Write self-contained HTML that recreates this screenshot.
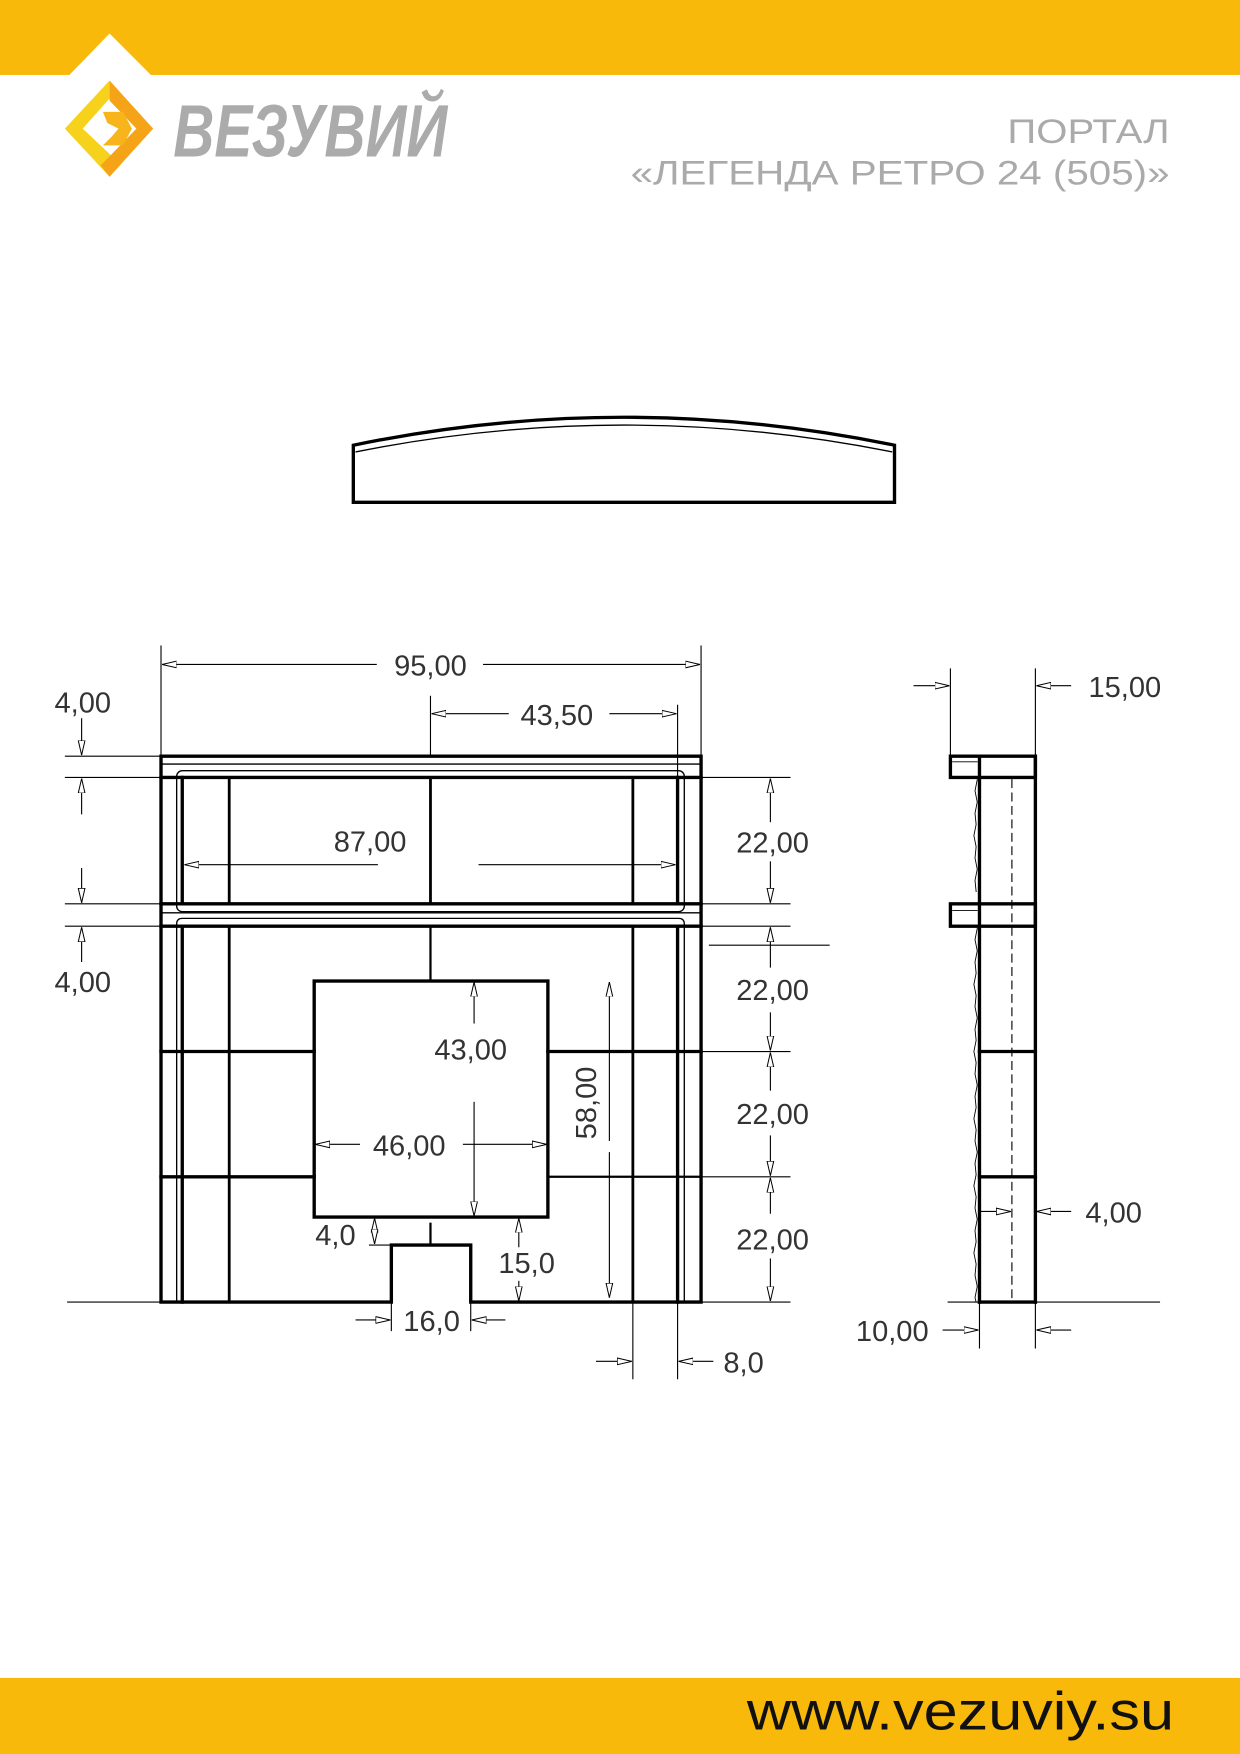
<!DOCTYPE html>
<html><head><meta charset="utf-8"><style>
html,body{margin:0;padding:0;background:#fff;}
svg{display:block;}
text{font-family:"Liberation Sans",sans-serif;}
</style></head><body>
<svg width="1240" height="1754" viewBox="0 0 1109 1568" preserveAspectRatio="none" xmlns="http://www.w3.org/2000/svg">
<defs>
<marker id="a" markerWidth="14" markerHeight="8" refX="13" refY="4" orient="auto" markerUnits="userSpaceOnUse">
<path d="M0,1 L13,4 L0,7 Z" fill="#fff" stroke="#000" stroke-width="0.9"/>
</marker>
</defs>
<!-- header -->
<rect x="0" y="0" width="1109" height="67" fill="#F9B90B"/>
<polygon points="62,67 98,30 135,67" fill="#fff"/>
<polygon points="98,72 58,115 98,158 108,147 74,115 98,88" fill="#F7D21C"/>
<polygon points="98,72 137,115 98,158 90,148 122,115 98,90" fill="#F6A417"/>
<polygon points="92,100 110,100 118,115 110,130 92,130 100,122 106,115 96,110" fill="#F7B51B"/>
<text x="155" y="140" font-size="66" font-weight="bold" font-style="italic" fill="#ababab" textLength="245" lengthAdjust="spacingAndGlyphs">ВЕЗУВИЙ</text>
<text x="1046" y="128" font-size="31" fill="#aaa" text-anchor="end" textLength="145" lengthAdjust="spacingAndGlyphs">ПОРТАЛ</text>
<text x="1046" y="165" font-size="31" fill="#aaa" text-anchor="end" textLength="482" lengthAdjust="spacingAndGlyphs">«ЛЕГЕНДА РЕТРО 24 (505)»</text>

<!-- slab -->
<g fill="none" stroke="#000">
<path d="M316,398 Q558,348 800,398 L800,449 L316,449 Z" stroke-width="3"/>
<path d="M318,404 Q558,356 798,404" stroke-width="1.2"/>
</g>

<!-- main front view -->
<g fill="none" stroke="#000" stroke-linecap="square">
<path d="M144,676 H627 V1164 H421 V1113 H350 V1164 H144 Z" stroke-width="3"/>
<line x1="144" y1="683" x2="627" y2="683" stroke-width="1.2"/>
<line x1="144" y1="695" x2="627" y2="695" stroke-width="3"/>
<line x1="144" y1="808" x2="627" y2="808" stroke-width="3"/>
<line x1="144" y1="828" x2="627" y2="828" stroke-width="3"/>
<line x1="144" y1="816" x2="627" y2="816" stroke-width="1.2"/>
<rect x="158" y="689" width="454" height="126" rx="5" stroke-width="1.2"/>
<path d="M158,1164 V826 Q158,821 163,821 H607 Q612,821 612,826 V1164" stroke-width="1.2"/>
<line x1="163" y1="695" x2="163" y2="808" stroke-width="3"/>
<line x1="163" y1="828" x2="163" y2="1164" stroke-width="3"/>
<line x1="205" y1="695" x2="205" y2="808" stroke-width="2.5"/>
<line x1="205" y1="828" x2="205" y2="1164" stroke-width="2.5"/>
<line x1="385" y1="695" x2="385" y2="808" stroke-width="2.5"/>
<line x1="385" y1="828" x2="385" y2="877" stroke-width="2"/>
<line x1="385" y1="1094" x2="385" y2="1112" stroke-width="2"/>
<line x1="566" y1="695" x2="566" y2="808" stroke-width="2.5"/>
<line x1="566" y1="828" x2="566" y2="1164" stroke-width="2.5"/>
<line x1="606" y1="695" x2="606" y2="808" stroke-width="3"/>
<line x1="606" y1="828" x2="606" y2="1164" stroke-width="3"/>
<rect x="281" y="877" width="209" height="211" stroke-width="3"/>
<line x1="144" y1="940" x2="281" y2="940" stroke-width="3"/>
<line x1="490" y1="940" x2="627" y2="940" stroke-width="3"/>
<line x1="144" y1="1052" x2="281" y2="1052" stroke-width="3"/>
<line x1="490" y1="1052" x2="627" y2="1052" stroke-width="2"/>
</g>

<g stroke="#000" stroke-width="1" fill="none">
<line x1="58" y1="676" x2="144" y2="676"/>
<line x1="58" y1="695" x2="144" y2="695"/>
<line x1="58" y1="808" x2="144" y2="808"/>
<line x1="58" y1="828" x2="144" y2="828"/>
<line x1="627" y1="695" x2="707" y2="695"/>
<line x1="627" y1="808" x2="707" y2="808"/>
<line x1="627" y1="828" x2="707" y2="828"/>
<line x1="634" y1="845" x2="742" y2="845"/>
<line x1="627" y1="940" x2="707" y2="940"/>
<line x1="627" y1="1052" x2="707" y2="1052"/>
<line x1="60" y1="1164" x2="144" y2="1164"/>
<line x1="627" y1="1164" x2="707" y2="1164"/>
<line x1="144" y1="577" x2="144" y2="676"/>
<line x1="627" y1="577" x2="627" y2="676"/>
<line x1="385" y1="622" x2="385" y2="676"/>
<line x1="606" y1="630" x2="606" y2="695"/>
<line x1="330" y1="1113" x2="350" y2="1113"/>
<line x1="350" y1="1164" x2="350" y2="1190"/>
<line x1="421" y1="1164" x2="421" y2="1190"/>
<line x1="566" y1="1164" x2="566" y2="1233"/>
<line x1="606" y1="1164" x2="606" y2="1233"/>
</g>

<g stroke="#000" stroke-width="1" fill="none" marker-end="url(#a)">
<line x1="337" y1="594" x2="145" y2="594"/>
<line x1="432" y1="594" x2="626" y2="594"/>
<line x1="455" y1="638" x2="386" y2="638"/>
<line x1="545" y1="638" x2="605" y2="638"/>
<line x1="338" y1="773" x2="165" y2="773"/>
<line x1="428" y1="773" x2="604" y2="773"/>
<line x1="73" y1="642" x2="73" y2="675"/>
<line x1="73" y1="728" x2="73" y2="696"/>
<line x1="73" y1="776" x2="73" y2="807"/>
<line x1="73" y1="860" x2="73" y2="829"/>
<line x1="689" y1="735" x2="689" y2="696"/>
<line x1="689" y1="770" x2="689" y2="807"/>
<line x1="689" y1="865" x2="689" y2="829"/>
<line x1="689" y1="905" x2="689" y2="939"/>
<line x1="689" y1="975" x2="689" y2="941"/>
<line x1="689" y1="1015" x2="689" y2="1051"/>
<line x1="689" y1="1085" x2="689" y2="1053"/>
<line x1="689" y1="1125" x2="689" y2="1163"/>
<line x1="424" y1="915" x2="424" y2="878"/>
<line x1="424" y1="985" x2="424" y2="1087"/>
<line x1="545" y1="1020" x2="545" y2="878"/>
<line x1="545" y1="1030" x2="545" y2="1160"/>
<line x1="322" y1="1023" x2="282" y2="1023"/>
<line x1="414" y1="1023" x2="489" y2="1023"/>
<line x1="335" y1="1100" x2="335" y2="1089"/>
<line x1="335" y1="1101" x2="335" y2="1112"/>
<line x1="464" y1="1115" x2="464" y2="1089"/>
<line x1="464" y1="1145" x2="464" y2="1163"/>
<line x1="318" y1="1180" x2="349" y2="1180"/>
<line x1="452" y1="1180" x2="422" y2="1180"/>
<line x1="533" y1="1217" x2="565" y2="1217"/>
<line x1="638" y1="1217" x2="607" y2="1217"/>
<line x1="817" y1="613" x2="849" y2="613"/>
<line x1="958" y1="613" x2="927" y2="613"/>
<line x1="876" y1="1083" x2="904" y2="1083"/>
<line x1="958" y1="1083" x2="927" y2="1083"/>
<line x1="843" y1="1189" x2="875" y2="1189"/>
<line x1="958" y1="1189" x2="927" y2="1189"/>
</g>

<g font-size="26" fill="#333">
<text x="385" y="604" text-anchor="middle">95,00</text>
<text x="498" y="648" text-anchor="middle">43,50</text>
<text x="74" y="637" text-anchor="middle">4,00</text>
<text x="74" y="887" text-anchor="middle">4,00</text>
<text x="331" y="761" text-anchor="middle">87,00</text>
<text x="691" y="762" text-anchor="middle">22,00</text>
<text x="691" y="894" text-anchor="middle">22,00</text>
<text x="691" y="1005" text-anchor="middle">22,00</text>
<text x="691" y="1117" text-anchor="middle">22,00</text>
<text x="421" y="947" text-anchor="middle">43,00</text>
<text x="366" y="1033" text-anchor="middle">46,00</text>
<text x="533" y="986" text-anchor="middle" transform="rotate(-90 533 986)">58,00</text>
<text x="300" y="1113" text-anchor="middle">4,0</text>
<text x="471" y="1138" text-anchor="middle">15,0</text>
<text x="386" y="1190" text-anchor="middle">16,0</text>
<text x="665" y="1227" text-anchor="middle">8,0</text>
<text x="1006" y="623" text-anchor="middle">15,00</text>
<text x="996" y="1093" text-anchor="middle">4,00</text>
<text x="798" y="1199" text-anchor="middle">10,00</text>
</g>

<g fill="none" stroke="#000" stroke-linecap="square">
<line x1="850" y1="598" x2="850" y2="676" stroke-width="1"/>
<line x1="926" y1="598" x2="926" y2="1205" stroke-width="1"/>
<line x1="876" y1="1164" x2="876" y2="1205" stroke-width="1"/>
<line x1="848" y1="1164" x2="1037" y2="1164" stroke-width="1"/>
<rect x="850" y="676" width="76" height="19" stroke-width="3"/>
<rect x="850" y="808" width="76" height="20" stroke-width="3"/>
<line x1="852" y1="681" x2="874" y2="681" stroke-width="0.8"/>
<line x1="852" y1="814" x2="874" y2="814" stroke-width="0.8"/>
<line x1="876" y1="676" x2="876" y2="1164" stroke-width="3"/>
<line x1="926" y1="676" x2="926" y2="1164" stroke-width="3"/>
<line x1="876" y1="940" x2="926" y2="940" stroke-width="3"/>
<line x1="876" y1="1052" x2="926" y2="1052" stroke-width="3"/>
<line x1="876" y1="1164" x2="926" y2="1164" stroke-width="3"/>
<line x1="905" y1="697" x2="905" y2="1162" stroke-width="1" stroke-dasharray="7,5"/>
<path d="M874,697 l-2,10 l2,10 l-2,10 l1,10 l-2,10 l2,10 l-1,10 l2,10 l-2,10 l1,10 M874,830 l-2,10 l2,10 l-2,10 l1,10 l-2,10 l2,10 l-1,10 l2,10 l-2,10 l1,10 l-2,10 l2,10 l-1,10 l2,10 l-2,10 l1,10 l-2,10 l2,10 l-1,10 l2,10 l-2,10 l1,10 l-2,10 l2,10 l-1,10 l2,10 l-2,10 l1,10 l-2,10 l2,10 l-1,10 l2,10 l-2,10 l1,4" stroke-width="0.8"/>
</g>

<rect x="0" y="1500" width="1109" height="68" fill="#F9B90B"/>
<text x="1050" y="1546" font-size="48" fill="#111" text-anchor="end" textLength="382" lengthAdjust="spacingAndGlyphs">www.vezuviy.su</text>
</svg>
</body></html>
